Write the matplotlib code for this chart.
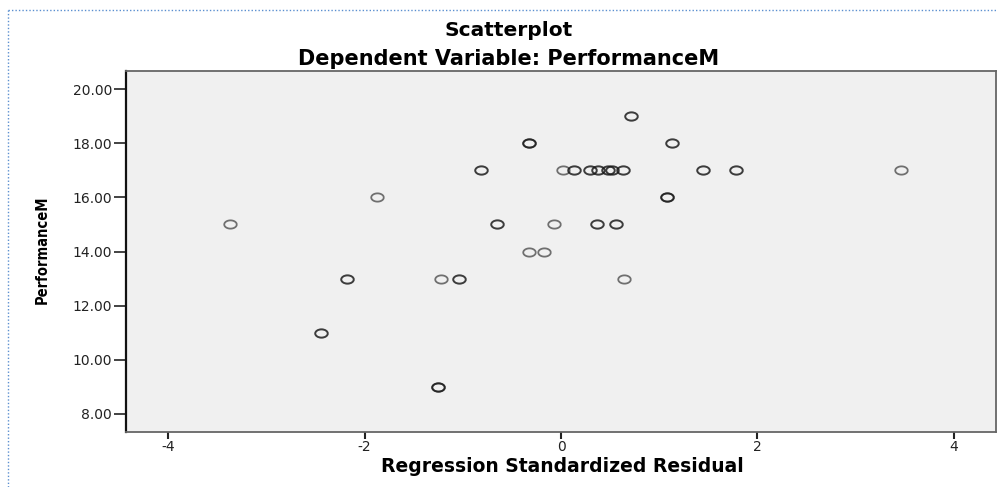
import numpy as np
import matplotlib
matplotlib.use("Agg")
import matplotlib.pyplot as plt
from matplotlib.lines import Line2D

# residual, performance, number of overlapping cases at that spot
residual = [-3.37, -2.44, -2.18, -1.87, -1.25, -1.22, -1.04, -0.81, -0.65, -0.33,
            -0.33, -0.17, -0.07, 0.02, 0.13, 0.30, 0.38, 0.48, 0.52, 0.63,
            0.37, 0.56, 0.64, 0.71, 1.08, 1.13, 1.45, 1.78, 3.46]
performance = [15, 11, 13, 16, 9, 13, 13, 17, 15, 18,
               14, 14, 15, 17, 17, 17, 17, 17, 17, 17,
               15, 15, 13, 19, 16, 18, 17, 17, 17]
overlap = [1, 2, 2, 1, 3, 1, 2, 2, 2, 3,
           1, 1, 1, 1, 2, 2, 2, 2, 2, 2,
           2, 2, 1, 2, 3, 2, 2, 2, 1]

x_ticks = [-4, -2, 0, 2, 4]
y_ticks = [8, 10, 12, 14, 16, 18, 20]

title = "Scatterplot"
subtitle = "Dependent Variable: PerformanceM"
xlabel = "Regression Standardized Residual"
ylabel = "PerformanceM"

W, H = 998, 487
fig = plt.figure(figsize=(W / 100, H / 100), dpi=100)
fig.patch.set_facecolor("white")

# axes box in pixels
left, right, top, bottom = 126, 996, 71, 432
ax = fig.add_axes([left / W, 1 - bottom / H, (right - left) / W, (bottom - top) / H])
ax.set_facecolor("#f0f0f0")

# squashed circle marker (the picture is stretched sideways)
t = np.linspace(0, 2 * np.pi, 60)
ellipse = np.column_stack([np.cos(t), 0.66 * np.sin(t)])

# draw each case once, so stacked cases give a darker ring
for xv, yv, n in zip(residual, performance, overlap):
    for _ in range(n):
        ax.plot([xv], [yv], linestyle="none", marker=ellipse, markersize=9,
                markerfacecolor="none", markeredgecolor=(0.1, 0.1, 0.1, 0.6),
                markeredgewidth=1.3)

ax.set_xlim(-4.43, 4.43)
ax.set_ylim(7.33, 20.67)
ax.set_xticks(x_ticks)
ax.set_xticklabels([str(v) for v in x_ticks])
ax.set_yticks(y_ticks)
ax.set_yticklabels(["%.2f" % v for v in y_ticks])

ax.tick_params(axis="y", direction="out", length=9, width=1.2, pad=1,
               labelsize=10, colors="#222222")
ax.tick_params(axis="x", direction="out", length=5, width=1.5, pad=1,
               labelsize=10, colors="#222222")

for side in ["top", "right", "bottom"]:
    ax.spines[side].set_color("#666666")
    ax.spines[side].set_linewidth(1.3)
ax.spines["left"].set_color("#111111")
ax.spines["left"].set_linewidth(1.6)

# titles and axis labels
fig.text(509 / W, 1 - 31 / H, title, ha="center", va="center",
         fontsize=14.5, fontweight="bold", family="DejaVu Sans")
fig.text(509 / W, 1 - 59 / H, subtitle, ha="center", va="center",
         fontsize=15, fontweight="bold", family="DejaVu Sans")
fig.text(562 / W, 1 - 467 / H, xlabel, ha="center", va="center",
         fontsize=13.5, fontweight="bold", family="DejaVu Sans")
fig.text(42 / W, 1 - 250 / H, ylabel, ha="center", va="center", rotation=90,
         fontsize=10.5, fontweight="bold", fontstretch="condensed",
         family="DejaVu Sans")

# dotted frame of the output window
frame_col = "#5b8fd0"
fig.add_artist(Line2D([8 / W, 1], [1 - 10 / H, 1 - 10 / H], transform=fig.transFigure,
                      color=frame_col, linestyle=(0, (1, 1.5)), linewidth=1))
fig.add_artist(Line2D([8 / W, 8 / W], [0, 1 - 10 / H], transform=fig.transFigure,
                      color=frame_col, linestyle=(0, (1, 1.5)), linewidth=1))

fig.savefig("out.png", dpi=100)
